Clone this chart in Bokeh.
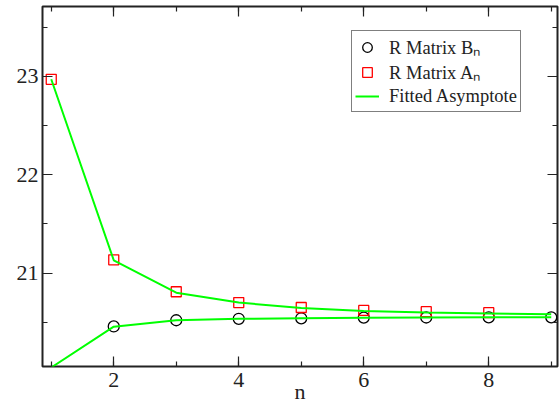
from bokeh.plotting import figure
from bokeh.models import Range1d, LinearAxis, SingleIntervalTicker, Legend, LegendItem
from bokeh.embed import file_html
from bokeh.resources import INLINE

# ---- data ----
n = [1, 2, 3, 4, 5, 6, 7, 8, 9]
n_A = [1, 2, 3, 4, 5, 6, 7, 8]
A_n = [22.97, 21.135, 20.81, 20.70, 20.65, 20.62, 20.607, 20.597]
B_n = [20.04, 20.457, 20.52, 20.535, 20.54, 20.547, 20.548, 20.549, 20.55]
fit_A = [22.97, 21.13, 20.80, 20.70, 20.645, 20.615, 20.60, 20.59, 20.58]
fit_B = [20.04, 20.455, 20.52, 20.535, 20.54, 20.545, 20.548, 20.55, 20.55]
x_ticks_major = 2
y_ticks_major = 1
x_title = "n"

X0, X1 = 0.86, 9.1
Y0, Y1 = 20.05, 23.71

FONT = "Liberation Serif"

p = figure(width=560, height=406, output_backend="svg", toolbar_location=None,
           x_range=Range1d(X0, X1), y_range=Range1d(Y0, Y1),
           min_border_left=42, min_border_right=3, min_border_top=6, min_border_bottom=40)
p.background_fill_color = "white"
p.border_fill_color = "white"
p.grid.visible = False
p.outline_line_color = "#222222"
p.outline_line_width = 2

bx = [xx for xx, yy in zip(n, B_n) if yy >= Y0]
by = [yy for yy in B_n if yy >= Y0]
r_b = p.scatter(bx, by, marker="circle", size=11, fill_color=None, line_color="black", line_width=1.3)
r_a = p.scatter(n_A, A_n, marker="square", size=10, fill_color=None, line_color="red", line_width=1.3)
r_fa = p.line(n, fit_A, line_color="#00ff00", line_width=2)
r_fb = p.line(n, fit_B, line_color="#00ff00", line_width=2)

def style_axis(ax, show_labels):
    ax.axis_line_color = None
    ax.major_tick_in = 10
    ax.major_tick_out = 0
    ax.minor_tick_in = 5
    ax.minor_tick_out = 0
    ax.major_tick_line_color = "#222222"
    ax.minor_tick_line_color = "#222222"
    ax.major_tick_line_width = 1.2
    ax.minor_tick_line_width = 1.2
    if show_labels:
        ax.major_label_text_font = FONT
        ax.major_label_text_font_size = "22px"
        ax.major_label_text_color = "#222222"
    else:
        ax.major_label_text_color = None
        ax.major_label_text_font_size = "1px"
        ax.major_label_standoff = 0

p.xaxis.ticker = SingleIntervalTicker(interval=x_ticks_major, num_minor_ticks=2)
p.yaxis.ticker = SingleIntervalTicker(interval=y_ticks_major, num_minor_ticks=2)
style_axis(p.xaxis[0], True)
style_axis(p.yaxis[0], True)
p.yaxis.major_label_standoff = 4
p.xaxis.major_label_standoff = 6
p.xaxis.major_label_text_line_height = 0.8
p.xaxis.axis_label = x_title
p.xaxis.axis_label_text_font = FONT
p.xaxis.axis_label_text_font_size = "22px"
p.xaxis.axis_label_text_font_style = "normal"
p.xaxis.axis_label_text_color = "#222222"
p.xaxis.axis_label_text_line_height = 0.8
p.xaxis.axis_label_standoff = -11

top = LinearAxis(ticker=SingleIntervalTicker(interval=x_ticks_major, num_minor_ticks=2))
right = LinearAxis(ticker=SingleIntervalTicker(interval=y_ticks_major, num_minor_ticks=2))
style_axis(top, False)
style_axis(right, False)
p.add_layout(top, "above")
p.add_layout(right, "right")

legend = Legend(items=[
    LegendItem(label="R Matrix B\u2099", renderers=[r_b]),
    LegendItem(label="R Matrix A\u2099", renderers=[r_a]),
    LegendItem(label="Fitted Asymptote", renderers=[r_fa]),
], location=(309, 254))
legend.label_text_font = FONT
legend.label_text_font_size = "18.5px"
legend.label_text_line_height = 1.0
legend.label_text_color = "#222222"
legend.border_line_color = "black"
legend.border_line_width = 1
legend.background_fill_color = "white"
legend.background_fill_alpha = 1
legend.padding = 3
legend.margin = 0
legend.spacing = 0
legend.glyph_width = 24
legend.glyph_height = 24
legend.label_height = 24
legend.label_standoff = 10
p.add_layout(legend, "center")

open("out.html", "w").write(file_html(p, INLINE))
